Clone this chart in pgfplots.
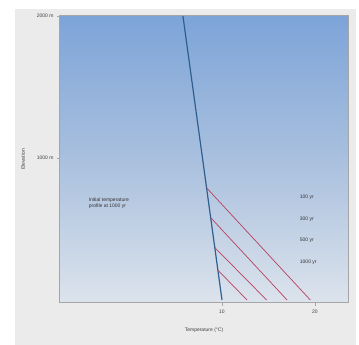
\documentclass[border=0pt]{standalone}
\usepackage{pgfplots}
\pgfplotsset{compat=1.18}
\usepackage{fontspec}
\setmainfont{Liberation Sans}
\definecolor{topblue}{HTML}{7DA4D8}
\definecolor{midblue}{HTML}{A9C0DE}
\definecolor{botblue}{HTML}{DCE3EC}
\definecolor{panel}{HTML}{EBEBEB}
\definecolor{geo}{HTML}{2F5F8F}
\definecolor{heat}{HTML}{B8405E}
\begin{document}
\begin{tikzpicture}[x=1pt,y=1pt]
\fill[white] (-60,-42) rectangle (299,303);
\fill[panel] (-45,-42) rectangle (296,294);
\begin{axis}[
  name=ax,
  scale only axis, width=288pt, height=287pt,
  xmin=-7.42, xmax=23.55, ymin=-21, ymax=2000,
  axis background/.style={top color=topblue, bottom color=botblue, middle color=midblue},
  axis line style={draw=gray!70, line width=1pt},
  xtick={10,20}, ytick={1000,2000},
  xtick pos=lower, ytick pos=left,
  yticklabels={1000 m,2000 m},
  tick style={draw=gray!70},
  tick align=outside, major tick length=3pt,
  ticklabel style={font=\fontsize{5}{6}\selectfont, text=black!75},
  /pgf/number format/assume math mode=true,
  xlabel={Temperature (\textdegree C)},
  ylabel={Elevation},
  xlabel shift=8pt, ylabel shift=5pt,
  label style={font=\fontsize{5}{6}\selectfont, text=black!75},
  clip=false,
]
\addplot[geo, line width=1.2pt] coordinates {(5.8,2000) (10,0)};
\addplot[heat, line width=0.7pt] coordinates {(8.34,790) (19.5,0)};
\addplot[heat, line width=0.7pt] coordinates {(8.78,580) (17.0,0)};
\addplot[heat, line width=0.7pt] coordinates {(9.22,370) (14.8,0)};
\addplot[heat, line width=0.7pt] coordinates {(9.56,210) (12.7,0)};
\node[anchor=west, align=left, font=\fontsize{5}{6}\selectfont, text=black!80] at (axis cs:-4.7,680) {Initial temperature\\profile at 1000 yr};
\node[anchor=west, font=\fontsize{5}{6}\selectfont, text=black!80] at (axis cs:18.0,720) {100 yr};
\node[anchor=west, font=\fontsize{5}{6}\selectfont, text=black!80] at (axis cs:18.0,566) {300 yr};
\node[anchor=west, font=\fontsize{5}{6}\selectfont, text=black!80] at (axis cs:18.0,420) {500 yr};
\node[anchor=west, font=\fontsize{5}{6}\selectfont, text=black!80] at (axis cs:18.0,266) {1000 yr};
\end{axis}
\pgfresetboundingbox
\path[use as bounding box] (-60,-42) rectangle (299,303);
\end{tikzpicture}
\end{document}
